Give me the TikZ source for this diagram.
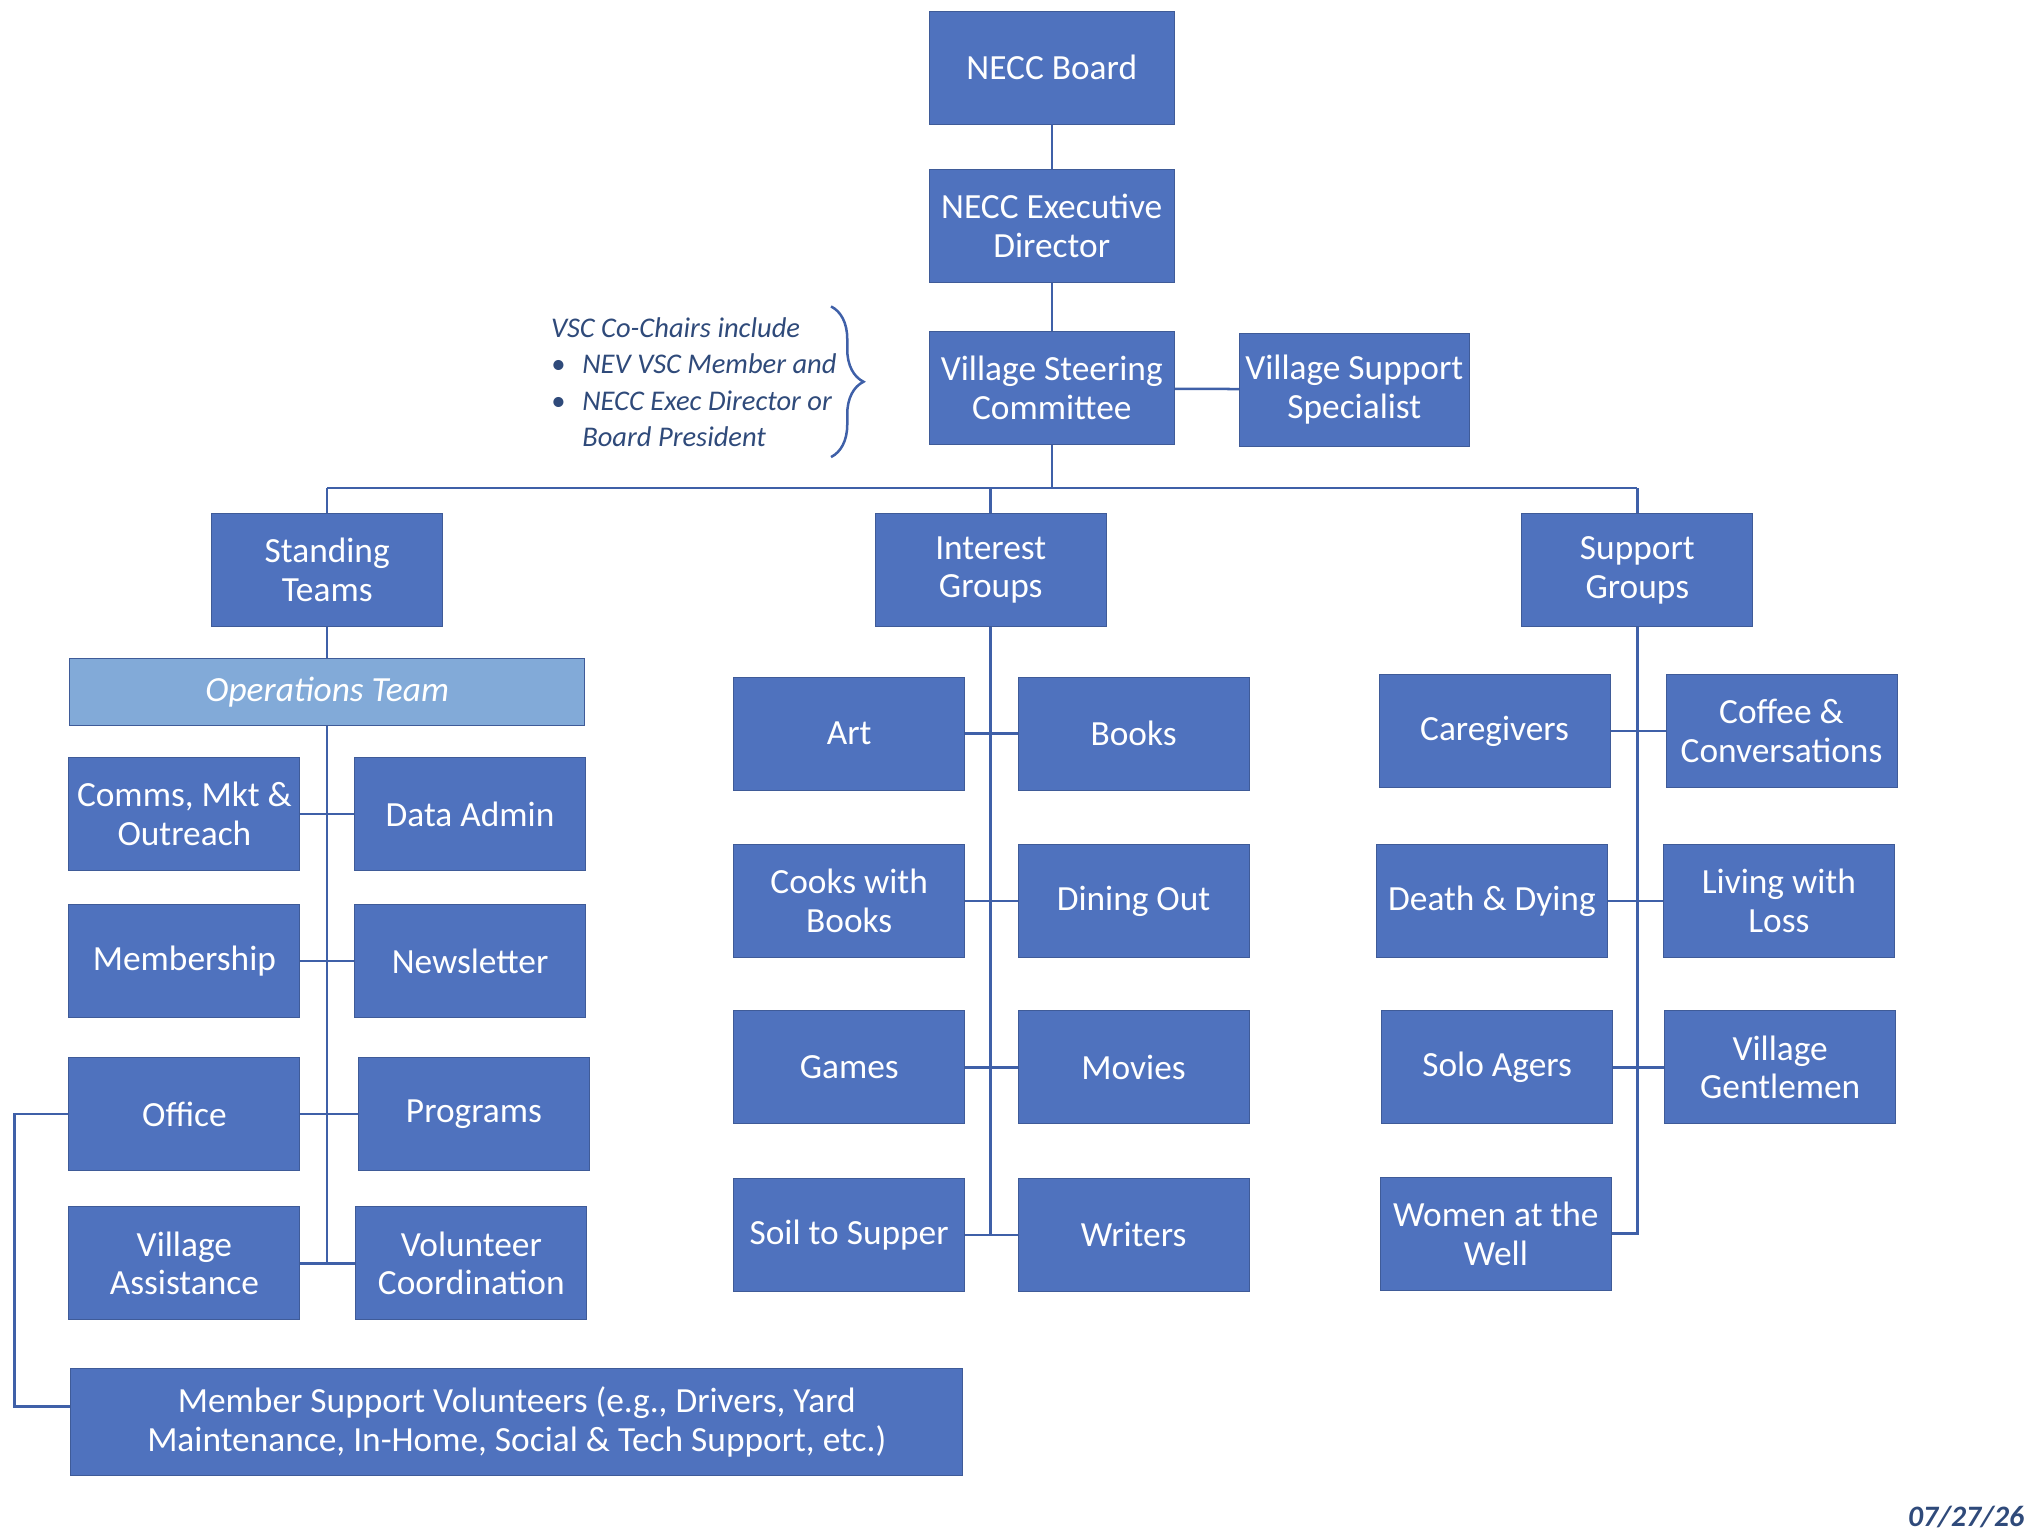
\documentclass[tikz,border=0pt]{standalone}
\usepackage{fontspec}
\setmainfont{Carlito}
\usetikzlibrary{positioning, decorations.pathreplacing}
\definecolor{boxblue}{HTML}{4F72BE}
\definecolor{opsblue}{HTML}{82AAD8}
\definecolor{linkblue}{HTML}{3F60A8}
\definecolor{datecol}{HTML}{2F4A7A}
\begin{document}
\begin{tikzpicture} [x=0.02cm, y=-0.02cm,
    box/.style = {draw=boxblue!80!black, fill=boxblue, text=white, minimum width=3.56cm,
                  minimum height=1.74cm, align=center, inner sep=1pt,
                  font=\fontsize{15.5}{17}\selectfont},
    link/.style = {draw=linkblue, line width=1.1pt}]

\useasboundingbox (0,0) rectangle (1568,1182);

% top of the chart
\node (board) [box, minimum width=3.78cm] at (810,52) {NECC Board};
\node (exec)  [box, minimum width=3.78cm] at (810,174) {NECC Executive\\Director};
\node (vsc)   [box, minimum width=3.78cm] at (810,299) {Village Steering\\Committee};
\node (vss)   [box, minimum width=3.54cm] at (1043,300) {Village Support\\Specialist};

\node (st) [box] at (252,439) {Standing\\Teams};
\node (ig) [box] at (763,439) {Interest\\Groups};
\node (sg) [box] at (1261,439) {Support\\Groups};

% note on the co-chairs
\node (note) [anchor=north west, align=left, text=datecol, inner sep=0pt,
    font=\fontsize{12.5}{16}\itshape\selectfont] at (424,244)
    {VSC Co-Chairs include\\
     \textbullet\hspace{0.6em}NEV VSC Member and\\
     \textbullet\hspace{0.6em}NECC Exec Director or\\
     \phantom{\textbullet}\hspace{0.6em}Board President};
\coordinate (bt) at (640,236);
\coordinate (bb) at (640,352);
\draw [link, decorate, decoration={brace, amplitude=0.5cm}] (bt) -- (bb);

% standing teams
\node (ops) [box, fill=opsblue, minimum width=7.94cm, minimum height=1.04cm,
    font=\fontsize{15.5}{17}\itshape\selectfont] at (252,533) {Operations Team};
\node (comms)  [box] at (142,627) {Comms, Mkt \&\\Outreach};
\node (data)   [box] at (362,627) {Data Admin};
\node (member) [box] at (142,740) {Membership};
\node (news)   [box] at (362,740) {Newsletter};
\node (office) [box] at (142,858) {Office};
\node (prog)   [box] at (365,858) {Programs};
\node (vassist)[box] at (142,973) {Village\\Assistance};
\node (volco)  [box] at (363,973) {Volunteer\\Coordination};
\node (msv) [box, minimum width=13.74cm, minimum height=1.66cm] at (398,1095)
    {Member Support Volunteers (e.g., Drivers, Yard\\Maintenance, In-Home, Social \& Tech Support, etc.)};

% interest groups
\node (art)   [box] at (654,565) {Art};
\node (books) [box] at (873,565) {Books};
\node (cooks) [box] at (654,694) {Cooks with\\Books};
\node (dine)  [box] at (873,694) {Dining Out};
\node (games) [box] at (654,822) {Games};
\node (movie) [box] at (873,822) {Movies};
\node (soil)  [box] at (654,951) {Soil to Supper};
\node (write) [box] at (873,951) {Writers};

% support groups
\node (care)  [box] at (1151,563) {Caregivers};
\node (coffee)[box] at (1372,563) {Coffee \&\\Conversations};
\node (death) [box] at (1149,694) {Death \& Dying};
\node (loss)  [box] at (1370,694) {Living with\\Loss};
\node (solo)  [box] at (1153,822) {Solo Agers};
\node (gent)  [box] at (1371,822) {Village\\Gentlemen};
\node (women) [box] at (1152,950) {Women at the\\Well};

\node (date) [anchor=east, text=datecol, font=\fontsize{13}{15}\bfseries\itshape\selectfont]
    at (1565,1168) {07/27/26};

% connectors
\coordinate (bus) at (810,376);
\path [link]
    (board) edge (exec)
    (exec) edge (vsc)
    (vsc) edge (vss)
    (vsc) edge (bus)
    (st.north) edge (st.north |- bus)
    (ig.north) edge (ig.north |- bus)
    (sg.north) edge (sg.north |- bus)
    (st) edge (ops);
\draw [link] (st.north |- bus) -- (sg.north |- bus);

\draw [link] (ops) -- (ops.south |- volco);
\foreach \l/\r in {comms/data, member/news, office/prog, vassist/volco}
    \draw [link] (\l.east) -- (\r.west);
\draw [link] (office.west) -| (11,1083) -- (msv.west |- 0,1083);

\draw [link] (ig) -- (ig.south |- write);
\foreach \l/\r in {art/books, cooks/dine, games/movie, soil/write}
    \draw [link] (\l.east) -- (\r.west);

\draw [link] (sg) -- (sg.south |- women) -- (women.east);
\foreach \l/\r in {care/coffee, death/loss, solo/gent}
    \draw [link] (\l.east) -- (\r.west);

\end{tikzpicture}
\end{document}
